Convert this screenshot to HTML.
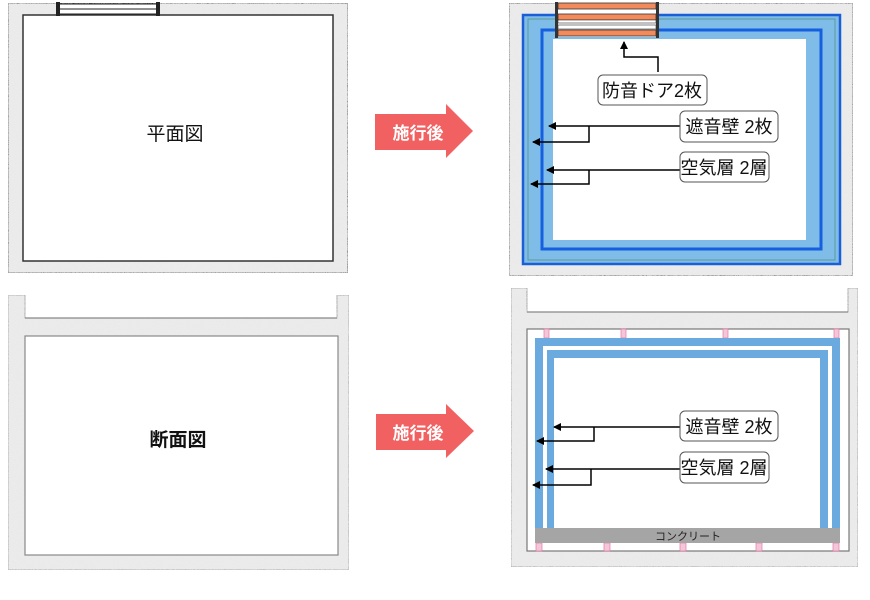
<!DOCTYPE html>
<html><head><meta charset="utf-8"><style>
html,body{margin:0;padding:0;background:#fff;width:870px;height:600px;overflow:hidden}
text{font-family:"Liberation Sans","Noto Sans CJK JP",sans-serif}
</style></head><body>
<svg width="870" height="600" viewBox="0 0 870 600" xmlns="http://www.w3.org/2000/svg">
<defs>
<filter id="tex" x="0" y="0" width="100%" height="100%">
<feTurbulence type="fractalNoise" baseFrequency="0.9" numOctaves="2" seed="3" result="n"/>
<feColorMatrix in="n" type="matrix" values="0 0 0 0 0.8  0 0 0 0 0.8  0 0 0 0 0.8  0 0 0 -1.2 0.9" result="c"/>
<feComposite in="c" in2="SourceGraphic" operator="in" result="d"/>
<feMerge><feMergeNode in="SourceGraphic"/><feMergeNode in="d"/></feMerge>
</filter>
<marker id="ah" markerWidth="8" markerHeight="8" refX="7" refY="4" orient="auto" markerUnits="userSpaceOnUse">
<path d="M0,0 L8,4 L0,8 z" fill="#000"/></marker>
</defs>

<!-- Top-left plan -->
<rect x="8" y="3" width="340" height="270" fill="#ececec" stroke="#333" stroke-width="1" filter="url(#tex)"/>
<rect x="23" y="15" width="310" height="246" fill="#fff" stroke="#333" stroke-width="1.5"/>
<rect x="58" y="4" width="100" height="10" fill="#fff" stroke="#222" stroke-width="1"/>
<line x1="60" y1="9" x2="156" y2="9" stroke="#222" stroke-width="1"/>
<rect x="56" y="2" width="4" height="14" fill="#222"/><rect x="156" y="2" width="4" height="14" fill="#222"/>
<text x="175" y="140" font-size="19" text-anchor="middle" fill="#111">平面図</text>

<!-- Arrow 1 -->
<path d="M375,114 H446 V104 L473,131 L446,158 V150 H375 Z" fill="#f26161"/>
<text x="418" y="139" font-size="17" font-weight="bold" text-anchor="middle" fill="#fff">施行後</text>

<!-- Bottom-left section -->
<path d="M8,295 H25 V318 H337 V295 H349 V570 H8 Z" fill="#ececec" stroke="#999" stroke-width="1" filter="url(#tex)"/>
<rect x="25" y="336" width="313" height="219" fill="#fff" stroke="#888" stroke-width="1.2"/>
<line x1="25" y1="318" x2="337" y2="318" stroke="#888" stroke-width="1.2"/>
<text x="178" y="446" font-size="19" font-weight="bold" text-anchor="middle" fill="#111">断面図</text>

<!-- Arrow 2 -->
<path d="M376,414 H446 V404 L474,431 L446,458 V450 H376 Z" fill="#f26161"/>
<text x="418" y="439" font-size="17" font-weight="bold" text-anchor="middle" fill="#fff">施行後</text>

<!-- Top-right plan after -->
<rect x="509" y="3" width="344" height="273" fill="#ececec" stroke="#444" stroke-width="1" filter="url(#tex)"/>
<rect x="523" y="15" width="317" height="249" fill="#80bce8" stroke="#1a5fd6" stroke-width="2.5"/>
<rect x="528" y="19" width="307" height="241" fill="none" stroke="#5a9a9a" stroke-width="1"/>
<rect x="542" y="30" width="279" height="219" fill="#80bce8" stroke="#1560e0" stroke-width="3"/>
<rect x="553" y="39" width="253" height="201" fill="#fff"/>
<!-- door -->
<rect x="557" y="3" width="100" height="34" fill="#fff"/>
<rect x="558" y="3" width="98" height="6" fill="#f38a5c" stroke="#333" stroke-width="0.8"/>
<rect x="558" y="14" width="98" height="6" fill="#f38a5c" stroke="#333" stroke-width="0.8"/>
<rect x="558" y="20" width="98" height="3" fill="#fff" stroke="#333" stroke-width="0.6"/>
<rect x="558" y="25" width="98" height="4" fill="#fff" stroke="#333" stroke-width="0.6"/>
<rect x="558" y="30" width="98" height="6" fill="#f38a5c" stroke="#333" stroke-width="0.8"/>
<rect x="555" y="2" width="3" height="36" fill="#333"/><rect x="656" y="2" width="3" height="36" fill="#333"/>
<!-- labels -->
<polyline points="658,72 658,57 624,57 624,42" fill="none" stroke="#000" stroke-width="1.5" marker-end="url(#ah)"/>
<rect x="598" y="75" width="109" height="30" rx="5" fill="#fff" stroke="#555"/>
<text x="652" y="97" font-size="18" text-anchor="middle" fill="#111">防音ドア2枚</text>
<line x1="680" y1="126" x2="549" y2="126" stroke="#000" stroke-width="1.5" marker-end="url(#ah)"/>
<polyline points="589,126 589,142 533,142" fill="none" stroke="#000" stroke-width="1.5" marker-end="url(#ah)"/>
<rect x="680" y="111" width="98" height="31" rx="5" fill="#fff" stroke="#555"/>
<text x="729" y="133" font-size="18" text-anchor="middle" fill="#111">遮音壁 2枚</text>
<line x1="680" y1="170" x2="547" y2="170" stroke="#000" stroke-width="1.5" marker-end="url(#ah)"/>
<polyline points="589,170 589,184 531,184" fill="none" stroke="#000" stroke-width="1.5" marker-end="url(#ah)"/>
<rect x="680" y="152" width="89" height="30" rx="5" fill="#fff" stroke="#555"/>
<text x="724" y="174" font-size="18" text-anchor="middle" fill="#111">空気層 2層</text>

<!-- Bottom-right section after -->
<path d="M511,288 H527 V312 H848 V288 H858 V567 H511 Z" fill="#ececec" stroke="#999" stroke-width="1" filter="url(#tex)"/>
<line x1="527" y1="312" x2="848" y2="312" stroke="#888" stroke-width="1.2"/>
<rect x="527" y="329" width="322" height="222" fill="#fff" stroke="#777" stroke-width="1.2"/>
<g fill="#f5c5d8" stroke="#e07aa5" stroke-width="0.7">
<rect x="544" y="329" width="5" height="9"/><rect x="621" y="329" width="5" height="9"/><rect x="723" y="329" width="5" height="9"/><rect x="834" y="329" width="5" height="9"/>
<rect x="536" y="543" width="6" height="8"/><rect x="604" y="543" width="6" height="8"/><rect x="680" y="543" width="6" height="8"/><rect x="756" y="543" width="6" height="8"/><rect x="833" y="543" width="6" height="8"/>
</g>
<path d="M535,338 H840 V528 H832 V346 H543 V528 H535 Z" fill="#6aaade"/>
<path d="M547,350 H828 V528 H820 V358 H554 V528 H547 Z" fill="#6aaade"/>
<rect x="535" y="528" width="305" height="15" fill="#a5a5a5"/>
<text x="688" y="540" font-size="11" text-anchor="middle" fill="#222">コンクリート</text>
<line x1="680" y1="427" x2="554" y2="427" stroke="#000" stroke-width="1.5" marker-end="url(#ah)"/>
<polyline points="594,427 594,441 537,441" fill="none" stroke="#000" stroke-width="1.5" marker-end="url(#ah)"/>
<rect x="680" y="411" width="98" height="30" rx="5" fill="#fff" stroke="#555"/>
<text x="729" y="433" font-size="18" text-anchor="middle" fill="#111">遮音壁 2枚</text>
<line x1="680" y1="469" x2="546" y2="469" stroke="#000" stroke-width="1.5" marker-end="url(#ah)"/>
<polyline points="591,469 591,485 533,485" fill="none" stroke="#000" stroke-width="1.5" marker-end="url(#ah)"/>
<rect x="680" y="452" width="89" height="31" rx="5" fill="#fff" stroke="#555"/>
<text x="724" y="474" font-size="18" text-anchor="middle" fill="#111">空気層 2層</text>
</svg>
</body></html>
